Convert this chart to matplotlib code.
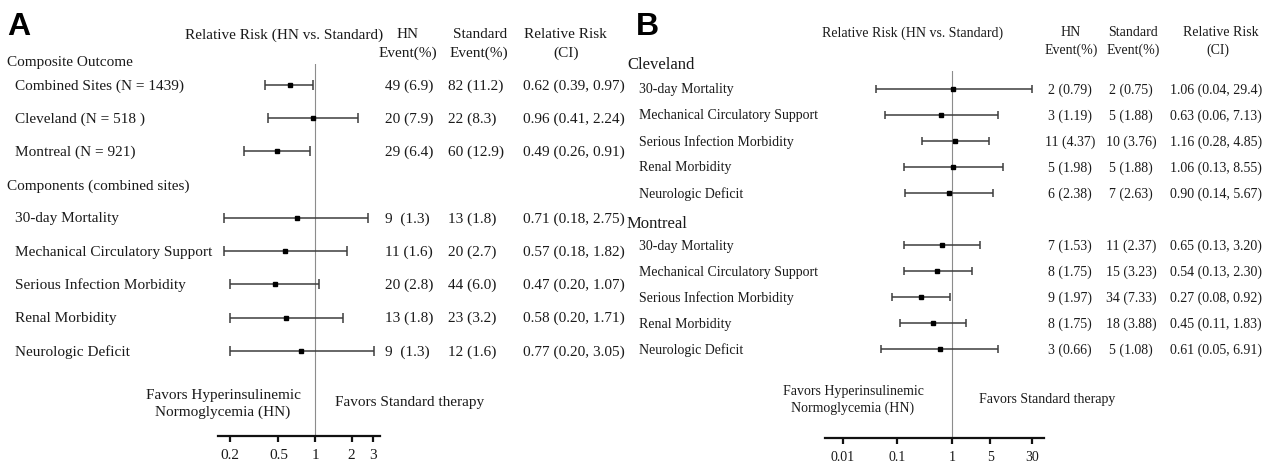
import matplotlib
matplotlib.use("Agg")
import matplotlib.pyplot as plt
from matplotlib.transforms import blended_transform_factory

# ---------------- data ----------------
# Panel A: composite outcome by site, then components (combined sites)
a_labels = ["Combined Sites (N = 1439)", "Cleveland (N = 518 )", "Montreal (N = 921)",
            "30-day Mortality", "Mechanical Circulatory Support",
            "Serious Infection Morbidity", "Renal Morbidity", "Neurologic Deficit"]
a_rr = [0.62, 0.96, 0.49, 0.71, 0.57, 0.47, 0.58, 0.77]
a_lo = [0.39, 0.41, 0.26, 0.18, 0.18, 0.20, 0.20, 0.20]
a_hi = [0.97, 2.24, 0.91, 2.75, 1.82, 1.07, 1.71, 3.05]
a_hn_events = ["49 (6.9)", "20 (7.9)", "29 (6.4)", "9  (1.3)", "11 (1.6)",
               "20 (2.8)", "13 (1.8)", "9  (1.3)"]
a_std_events = ["82 (11.2)", "22 (8.3)", "60 (12.9)", "13 (1.8)", "20 (2.7)",
                "44 (6.0)", "23 (3.2)", "12 (1.6)"]
a_ticks = [0.2, 0.5, 1, 2, 3]
a_tick_labels = ["0.2", "0.5", "1", "2", "3"]

# Panel B: components by site
b_outcomes = ["30-day Mortality", "Mechanical Circulatory Support",
              "Serious Infection Morbidity", "Renal Morbidity", "Neurologic Deficit"]
cle_rr = [1.06, 0.63, 1.16, 1.06, 0.90]
cle_lo = [0.04, 0.06, 0.28, 0.13, 0.14]
cle_hi = [29.4, 7.13, 4.85, 8.55, 5.67]
cle_hn_events = ["2 (0.79)", "3 (1.19)", "11 (4.37)", "5 (1.98)", "6 (2.38)"]
cle_std_events = ["2 (0.75)", "5 (1.88)", "10 (3.76)", "5 (1.88)", "7 (2.63)"]
mtl_rr = [0.65, 0.54, 0.27, 0.45, 0.61]
mtl_lo = [0.13, 0.13, 0.08, 0.11, 0.05]
mtl_hi = [3.20, 2.30, 0.92, 1.83, 6.91]
mtl_hn_events = ["7 (1.53)", "8 (1.75)", "9 (1.97)", "8 (1.75)", "3 (0.66)"]
mtl_std_events = ["11 (2.37)", "15 (3.23)", "34 (7.33)", "18 (3.88)", "5 (1.08)"]
b_ticks = [0.01, 0.1, 1, 5, 30]
b_tick_labels = ["0.01", "0.1", "1", "5", "30"]

# ---------------- figure ----------------
W, H = 1272, 464
SERIF = ["Liberation Serif", "DejaVu Serif"]
SANS = ["Liberation Sans", "DejaVu Sans"]
TXT = "#1a1a1a"
fig = plt.figure(figsize=(W / 100, H / 100), dpi=100)
fig.patch.set_facecolor("white")


def fx(px):
    return px / W


def fy(py):
    return 1 - py / H


def fmt_num(v):
    return f"{v:.1f}" if v >= 10 else f"{v:.2f}"


def rr_text(rr, lo, hi):
    return f"{rr:.2f} ({fmt_num(lo)}, {fmt_num(hi)})"


def forest_axes(left, right, top, bottom, xlim, ylim, ticks, tick_labels, fs, pad):
    ax = fig.add_axes([fx(left), fy(bottom), fx(right) - fx(left), fy(top) - fy(bottom)])
    ax.set_xscale("log")
    ax.set_xlim(*xlim)
    ax.set_ylim(*ylim)
    for s in ("top", "right", "left"):
        ax.spines[s].set_visible(False)
    ax.spines["bottom"].set_linewidth(1.6)
    ax.spines["bottom"].set_color("#111111")
    ax.set_yticks([])
    ax.xaxis.set_minor_locator(matplotlib.ticker.NullLocator())
    ax.set_xticks(ticks)
    ax.set_xticklabels(tick_labels, fontfamily=SERIF, fontsize=fs, color=TXT)
    ax.tick_params(axis="x", direction="out", length=4, width=1.6, pad=pad, color="#111111")
    ax.patch.set_alpha(0)
    ax.axvline(1, color="#8c8c8c", lw=0.8, zorder=1)
    return ax


def draw_ci(ax, ys, rr, lo, hi, capsize, ms):
    xerr = [[r - l for r, l in zip(rr, lo)], [h - r for r, h in zip(rr, hi)]]
    ax.errorbar(rr, ys, xerr=xerr, fmt="s", color="black", ms=ms,
                ecolor="#3d3d3d", elinewidth=1.1, capsize=capsize, capthick=1.1,
                zorder=3)


# ---------------- panel A ----------------
fsA = 11
rowsA = [0, 1, 2, 4, 5, 6, 7, 8]
axA = forest_axes(218, 380, 65, 437, (0.1593, 3.424), (10.56, -0.63),
                  a_ticks, a_tick_labels, fsA, pad=5)
draw_ci(axA, rowsA, a_rr, a_lo, a_hi, capsize=3.6, ms=2.8)
trA = blended_transform_factory(fig.transFigure, axA.transData)

axA.text(fx(7), -0.72, "Composite Outcome", transform=trA, fontfamily=SERIF,
         fontsize=fsA, color=TXT, va="center", ha="left")
axA.text(fx(7), 3.03, "Components (combined sites)", transform=trA, fontfamily=SERIF,
         fontsize=fsA, color=TXT, va="center", ha="left")
for y, lab, hn, st, r, l, h in zip(rowsA, a_labels, a_hn_events, a_std_events,
                                   a_rr, a_lo, a_hi):
    kw = dict(transform=trA, fontfamily=SERIF, fontsize=fsA, color=TXT, va="center")
    axA.text(fx(15), y, lab, ha="left", **kw)
    axA.text(fx(385), y, hn, ha="left", **kw)
    axA.text(fx(448), y, st, ha="left", **kw)
    axA.text(fx(523), y, rr_text(r, l, h), ha="left", **kw)

hdrA = dict(fontfamily=SERIF, fontsize=fsA, color=TXT, va="center", ha="center")
fig.text(fx(284), fy(35), "Relative Risk (HN vs. Standard)", **hdrA)
fig.text(fx(408), fy(35), "HN", **hdrA)
fig.text(fx(408), fy(53), "Event(%)", **hdrA)
fig.text(fx(480), fy(35), "Standard", **hdrA)
fig.text(fx(479), fy(53), "Event(%)", **hdrA)
fig.text(fx(565), fy(35), "Relative Risk", **hdrA)
fig.text(fx(566), fy(53), "(CI)", **hdrA)

fig.text(fx(223), fy(404), "Favors Hyperinsulinemic\nNormoglycemia (HN)",
         fontfamily=SERIF, fontsize=fsA, color=TXT, ha="center", va="center",
         linespacing=1.25)
fig.text(fx(335), fy(403), "Favors Standard therapy", fontfamily=SERIF,
         fontsize=fsA, color=TXT, ha="left", va="center")
fig.text(fx(7), fy(35), "A", fontfamily=SANS, fontweight="bold", fontsize=23,
         color="black", ha="left", va="baseline")

# ---------------- panel B ----------------
fsB = 10
rows_cle = [0, 1, 2, 3, 4]
rows_mtl = [6, 7, 8, 9, 10]
axB = forest_axes(825, 1044, 72, 439, (0.00468, 48.8), (13.42, -0.69),
                  b_ticks, b_tick_labels, fsB, pad=5)
draw_ci(axB, rows_cle, cle_rr, cle_lo, cle_hi, capsize=2.9, ms=2.6)
draw_ci(axB, rows_mtl, mtl_rr, mtl_lo, mtl_hi, capsize=2.9, ms=2.6)
trB = blended_transform_factory(fig.transFigure, axB.transData)

axB.text(fx(627), -0.96, "Cleveland", transform=trB, fontfamily=SERIF,
         fontsize=12, color=TXT, va="center", ha="left")
axB.text(fx(627), 5.15, "Montreal", transform=trB, fontfamily=SERIF,
         fontsize=12, color=TXT, va="center", ha="left")
for rows, rr, lo, hi, hn, st in ((rows_cle, cle_rr, cle_lo, cle_hi, cle_hn_events, cle_std_events),
                                 (rows_mtl, mtl_rr, mtl_lo, mtl_hi, mtl_hn_events, mtl_std_events)):
    for y, lab, r, l, h, e1, e2 in zip(rows, b_outcomes, rr, lo, hi, hn, st):
        kw = dict(transform=trB, fontfamily=SERIF, fontsize=fsB, color=TXT, va="center")
        axB.text(fx(639), y, lab, ha="left", **kw)
        axB.text(fx(1070), y, e1, ha="center", **kw)
        axB.text(fx(1131), y, e2, ha="center", **kw)
        axB.text(fx(1216), y, rr_text(r, l, h), ha="center", **kw)

hdrB = dict(fontfamily=SERIF, fontsize=fsB, color=TXT, va="center", ha="center")
fig.text(fx(913), fy(33), "Relative Risk (HN vs. Standard)", **hdrB)
fig.text(fx(1071), fy(33), "HN", **hdrB)
fig.text(fx(1071), fy(50), "Event(%)", **hdrB)
fig.text(fx(1133), fy(33), "Standard", **hdrB)
fig.text(fx(1133), fy(50), "Event(%)", **hdrB)
fig.text(fx(1221), fy(33), "Relative Risk", **hdrB)
fig.text(fx(1218), fy(50), "(CI)", **hdrB)

fig.text(fx(853), fy(400), "Favors Hyperinsulinemic\nNormoglycemia (HN)",
         fontfamily=SERIF, fontsize=fsB, color=TXT, ha="center", va="center",
         linespacing=1.35)
fig.text(fx(979), fy(400), "Favors Standard therapy", fontfamily=SERIF,
         fontsize=fsB, color=TXT, ha="left", va="center")
fig.text(fx(636), fy(35), "B", fontfamily=SANS, fontweight="bold", fontsize=23,
         color="black", ha="left", va="baseline")

fig.savefig("out.png", dpi=100, facecolor="white")
